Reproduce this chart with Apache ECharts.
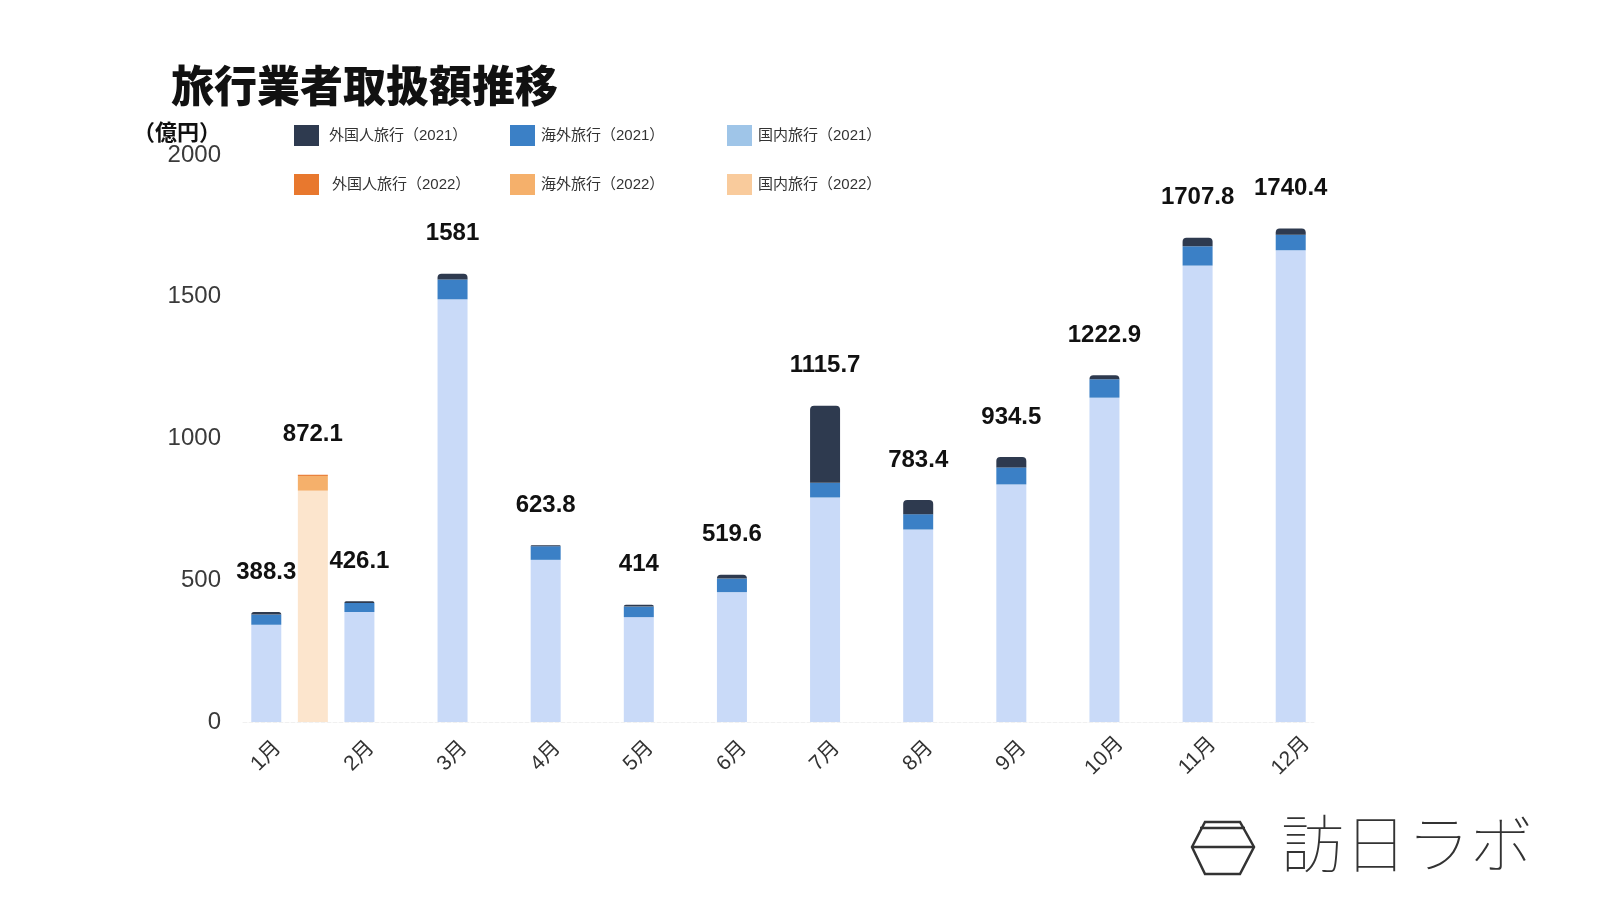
<!DOCTYPE html>
<html><head><meta charset="utf-8">
<script src="https://cdn.jsdelivr.net/npm/echarts@6/dist/echarts.min.js"></script>
<style>html,body{margin:0;padding:0;background:#fff}#chart{width:1600px;height:900px}</style>
</head><body><div id="chart"></div>
<script>
// ---- data ----
const months = ['1月','2月','3月','4月','5月','6月','7月','8月','9月','10月','11月','12月'];
const yTicks = [0, 500, 1000, 1500, 2000];
const domestic2021 = [343, 388, 1491, 572, 370, 458, 792, 679, 838, 1144, 1610, 1664];
const overseas2021 = [36, 32, 70, 48, 37, 48, 52, 54, 60, 65, 68, 55];
const foreign2021  = [9.3, 6.1, 20, 3.8, 7, 13.6, 271.7, 50.4, 36.5, 13.9, 29.8, 21.4];
const total2021    = [388.3, 426.1, 1581, 623.8, 414, 519.6, 1115.7, 783.4, 934.5, 1222.9, 1707.8, 1740.4];
// 2022: January only
const domestic2022 = [816];
const overseas2022 = [52];
const foreign2022  = [4.1];
const total2022    = [872.1];

// ---- slots: each month on even slot, 2022 January in the half slot after 1月 ----
const N = months.length * 2 - 1;
const categories = [];
for (let i = 0; i < N; i++) categories.push(i % 2 === 0 ? months[i / 2] : '');
function slot2021(arr) { const a = new Array(N).fill(null); arr.forEach((v, i) => a[2 * i] = v); return a; }
function slot2022(arr) { const a = new Array(N).fill(null); arr.forEach((v, i) => a[1 + 2 * i] = v); return a; }

const FONT = '"Liberation Sans", "Noto Sans CJK JP", sans-serif';
const C = {
  f21: '#2e3a4f', o21: '#3b80c6', d21: '#c9daf8', d21L: '#9fc5e8',
  f22: '#e8782e', o22: '#f5b06b', d22: '#fce5cd', d22L: '#f9cb9c'
};
const labelCfg = (totals, off) => ({
  show: true, position: 'top', distance: 28,
  formatter: p => String(totals[(p.dataIndex - off) / 2]),
  fontFamily: FONT, fontSize: 24, fontWeight: 'bold', color: '#111'
});

const names = ['外国人旅行（2021）','海外旅行（2021）','国内旅行（2021）','外国人旅行（2022）','海外旅行（2022）','国内旅行（2022）'];
const legendColors = [C.f21, C.o21, C.d21L, C.f22, C.o22, C.d22L];
const legendPos = [[289,120],[505,120],[722,120],[289,169],[505,169],[722,169]];
const legends = names.map((n, i) => ({
  data: [{ name: n, itemStyle: { color: legendColors[i] } }],
  left: legendPos[i][0], top: legendPos[i][1],
  itemWidth: 25, itemHeight: 21, icon: 'rect', selectedMode: false,
  textStyle: { fontFamily: FONT, fontSize: 15, color: '#333', padding: [0, 0, 0, i === 0 ? 5 : (i === 3 ? 8 : 1)] }
}));

const chart = echarts.init(document.getElementById('chart'), null, { renderer: 'canvas' });
chart.setOption({
  backgroundColor: '#fff',
  animation: false,
  title: {
    text: '旅行業者取扱額推移', left: 166, top: 59,
    textStyle: { fontFamily: '"Noto Sans CJK JP", sans-serif', fontSize: 43, fontWeight: 900, color: '#111' }
  },
  legend: legends,
  grid: { left: 243, right: 286, top: 155, bottom: 178, containLabel: false },
  xAxis: {
    type: 'category', data: categories,
    axisTick: { show: false },
    axisLine: { show: true, lineStyle: { color: '#f0f0f0', type: 'dashed' } },
    axisLabel: {
      interval: 0, rotate: 45, align: 'center', verticalAlign: 'middle', margin: 34,
      fontFamily: FONT, fontSize: 21, color: '#333'
    }
  },
  yAxis: {
    type: 'value', min: yTicks[0], max: yTicks[yTicks.length - 1], interval: yTicks[1] - yTicks[0],
    name: '（億円）', nameLocation: 'end', nameGap: 12,
    nameTextStyle: { fontFamily: '"Noto Sans CJK JP", sans-serif', fontSize: 22, fontWeight: 'bold', color: '#111', align: 'right', padding: [0, 22, 0, 0] },
    axisLine: { show: false }, axisTick: { show: false },
    splitLine: { show: false },
    axisLabel: { fontFamily: FONT, fontSize: 24, color: '#3a3a3a', margin: 22, formatter: v => String(v) }
  },
  series: [
    { name: names[2], type: 'bar', stack: 'all', barWidth: 30, data: slot2021(domestic2021), itemStyle: { color: C.d21 } },
    { name: names[1], type: 'bar', stack: 'all', data: slot2021(overseas2021), itemStyle: { color: C.o21 } },
    { name: names[0], type: 'bar', stack: 'all', data: slot2021(foreign2021), itemStyle: { color: C.f21, borderRadius: [4, 4, 0, 0] }, label: labelCfg(total2021, 0) },
    { name: names[5], type: 'bar', stack: 'all', data: slot2022(domestic2022), itemStyle: { color: C.d22 } },
    { name: names[4], type: 'bar', stack: 'all', data: slot2022(overseas2022), itemStyle: { color: C.o22 } },
    { name: names[3], type: 'bar', stack: 'all', data: slot2022(foreign2022), itemStyle: { color: C.f22 }, label: labelCfg(total2022, 1) }
  ],
  graphic: [
    { type: 'polygon', shape: { points: [[1205,822],[1240,822],[1254,847],[1240,874],[1205,874],[1192,847]] }, style: { fill: 'none', stroke: '#333', lineWidth: 2.5 } },
    { type: 'line', shape: { x1: 1200, y1: 828, x2: 1245, y2: 828 }, style: { stroke: '#333', lineWidth: 2.5 } },
    { type: 'line', shape: { x1: 1192, y1: 847, x2: 1254, y2: 847 }, style: { stroke: '#333', lineWidth: 2.5 } },
    { type: 'text', left: 1281, top: 812, style: { text: '訪日ラボ', font: '100 63px "Noto Sans CJK JP", sans-serif', fill: '#333' } }
  ]
});
</script></body></html>
